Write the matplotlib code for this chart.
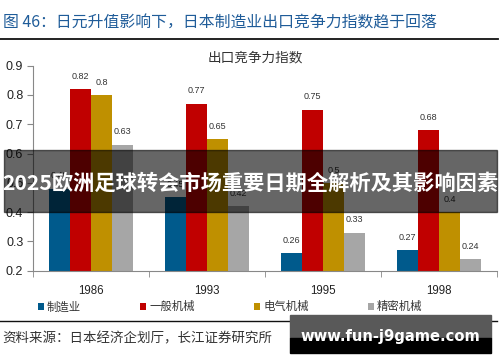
import numpy as np
import matplotlib.pyplot as plt
from matplotlib.patches import Rectangle

plt.rcParams['font.family'] = ['Noto Sans CJK SC', 'DejaVu Sans']

years = ["1986", "1993", "1995", "1998"]
series = ["制造业", "一般机械", "电气机械", "精密机械"]
manufacturing = [0.48, 0.45, 0.26, 0.27]
general_machinery = [0.82, 0.77, 0.75, 0.68]
electrical_machinery = [0.80, 0.65, 0.50, 0.40]
precision_machinery = [0.63, 0.42, 0.33, 0.24]
colors = ["#005a8c", "#c00000", "#bf9000", "#a6a6a6"]

values = [manufacturing, general_machinery, electrical_machinery, precision_machinery]

fig = plt.figure(figsize=(5, 3.62), dpi=100)
ax = fig.add_axes([0.066, 0.2522, 0.928, 0.5663])

x = np.arange(len(years))
w = 0.18
for i, (vals, name, c) in enumerate(zip(values, series, colors)):
    pos = x + (i - 1.5) * w
    bars = ax.bar(pos, vals, width=w, color=c, label=name, bottom=0)
    for b, v in zip(bars, vals):
        ax.annotate(f"{v:g}", (b.get_x() + b.get_width() / 2, v), xytext=(0, 6),
                    textcoords="offset points", ha="center", va="bottom",
                    fontsize=6.5, color="#333333", family="Liberation Sans")

ax.set_ylim(0.2, 0.9)
ax.set_xlim(-0.5, 3.5)
ax.set_yticks([0.2, 0.3, 0.4, 0.5, 0.6, 0.7, 0.8, 0.9])
ax.set_yticklabels([f"{t:.1f}" for t in ax.get_yticks()], family="Liberation Sans", fontsize=9, color="#222222")
ax.set_xticks(x)
ax.set_xticklabels(years, family="Liberation Sans", fontsize=8.3, color="#222222")
ax.set_xticks(np.arange(-0.5, 4.0, 1.0), minor=True)
ax.tick_params(axis="x", which="major", length=0, pad=10)
ax.tick_params(axis="x", which="minor", length=4, color="#888888")
ax.tick_params(axis="y", length=4, color="#888888", pad=3)
for s in ["top", "right"]:
    ax.spines[s].set_visible(False)
for s in ["left", "bottom"]:
    ax.spines[s].set_color("#888888")

fig.legend(loc="center", bbox_to_anchor=(0.46, 1 - 306.7 / 362), ncol=4, frameon=False,
           fontsize=8.2, handlelength=0.55, handleheight=0.55, handletextpad=0.25,
           columnspacing=5.2, labelcolor="#333333")

# header
fig.text(0.006, 1 - 23 / 362, "图 46：日元升值影响下，日本制造业出口竞争力指数趋于回落",
         fontsize=11.4, color="#1f5c99", va="center", ha="left")
fig.add_artist(plt.Line2D([0, 0.996], [1 - 39 / 362] * 2, color="#111111", lw=1.3))
fig.text(0.51, 1 - 57 / 362, "出口竞争力指数", fontsize=9.8, color="#333333", ha="center", va="center")

# footer
fig.add_artist(plt.Line2D([0, 0.994], [1 - 320.7 / 362] * 2, color="#111111", lw=1.0))
fig.text(0.004, 1 - 338 / 362, "资料来源：日本经济企划厅，长江证券研究所",
         fontsize=9.7, color="#333333", va="center", ha="left")

# watermark box
fig.add_artist(Rectangle((290 / 500, 1 - 338 / 362), 201 / 500, 23 / 362,
                         transform=fig.transFigure, color="#595959", zorder=6))
fig.add_artist(Rectangle((290 / 500, 1 - 353 / 362), 201 / 500, 15 / 362,
                         transform=fig.transFigure, color="#000000", zorder=6))
fig.text(390 / 500, 1 - 336.7 / 362, "www.fun-j9game.com", fontsize=10.6, color="white",
         fontweight="bold", ha="center", va="center", family="DejaVu Sans", zorder=7)

# banner overlay
fig.add_artist(Rectangle((4 / 500, 1 - 212 / 362), 493 / 500, 62 / 362,
                         transform=fig.transFigure, color="black", alpha=0.6, zorder=6))
fig.text(0.5, 1 - 183 / 362, "2025欧洲足球转会市场重要日期全解析及其影响因素",
         fontsize=15.3, color="white", fontweight="bold", ha="center", va="center", zorder=7)

fig.savefig("out.png", dpi=100)
